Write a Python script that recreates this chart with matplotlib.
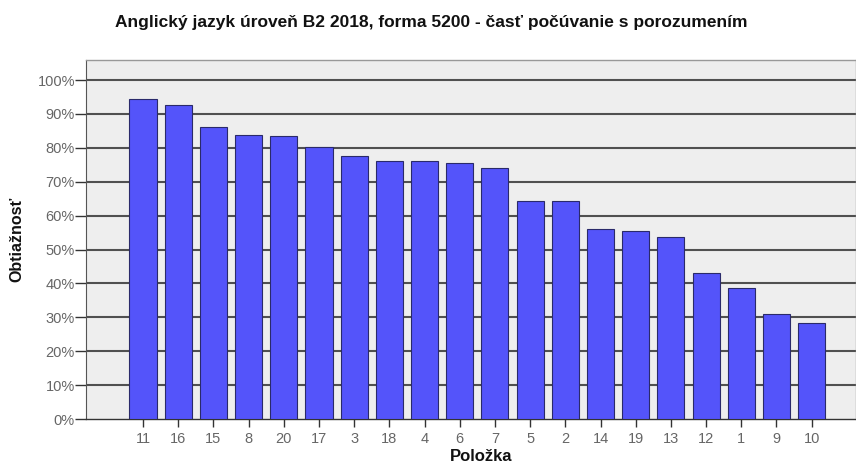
import matplotlib
matplotlib.use("Agg")
import matplotlib.pyplot as plt
from matplotlib.ticker import FuncFormatter

items = ["11", "16", "15", "8", "20", "17", "3", "18", "4", "6",
         "7", "5", "2", "14", "19", "13", "12", "1", "9", "10"]
difficulty = [94.4, 92.7, 86.0, 83.8, 83.6, 80.1, 77.7, 76.2, 76.2, 75.6,
              73.9, 64.3, 64.3, 56.0, 55.4, 53.7, 43.0, 38.7, 30.9, 28.2]
y_ticks = [0, 10, 20, 30, 40, 50, 60, 70, 80, 90, 100]

title = "Anglický jazyk úroveň B2 2018, forma 5200 - časť počúvanie s porozumením"
xlabel = "Položka"
ylabel = "Obtiažnosť"

plt.rcParams['font.family'] = ['Liberation Sans', 'DejaVu Sans']

W, H = 856, 465
fig = plt.figure(figsize=(W/100, H/100), dpi=100)
fig.patch.set_facecolor('white')

left, right, bottom, top = 86, 856, 419, 60
ax = fig.add_axes([left/W, (H-bottom)/H, (right-left)/W, (bottom-top)/H])
ax.set_facecolor('#eeeeee')

x = list(range(len(items)))
ax.bar(x, difficulty, width=0.77, color='#5454fa', edgecolor='#2a2a6a', linewidth=0.8, zorder=3)

ax.set_xlim(-1.62, 20.26)
ax.set_ylim(0, 105.9)
ax.set_yticks(y_ticks)
ax.yaxis.set_major_formatter(FuncFormatter(lambda v, p: f"{int(v)}%"))
ax.set_xticks(x)
ax.set_xticklabels(items)

for yv in y_ticks[1:]:
    ax.axhline(yv, color='#505050', linewidth=1.5, zorder=1)

for s in ['top', 'right']:
    ax.spines[s].set_color('#999999')
    ax.spines[s].set_linewidth(1.0)
ax.spines['bottom'].set_color('#333333')
ax.spines['bottom'].set_linewidth(1.0)
ax.spines['left'].set_color('#555555')

ax.tick_params(axis='both', colors='#333333', labelcolor='#666666', labelsize=10.5, width=1)
ax.tick_params(axis='x', length=6, pad=3)
ax.tick_params(axis='y', length=8, pad=0)

fig.text(431/W, 1 - 22/H, title, ha='center', va='center', fontsize=12.5, fontweight='bold', color='#111111')
fig.text(481/W, 1 - 456/H, xlabel, ha='center', va='center', fontsize=12, fontweight='bold', color='#111111')
fig.text(17/W, 1 - 239/H, ylabel, ha='center', va='center', rotation=90, fontsize=11.5, fontweight='bold', color='#111111')

fig.savefig('out.png', dpi=100)
